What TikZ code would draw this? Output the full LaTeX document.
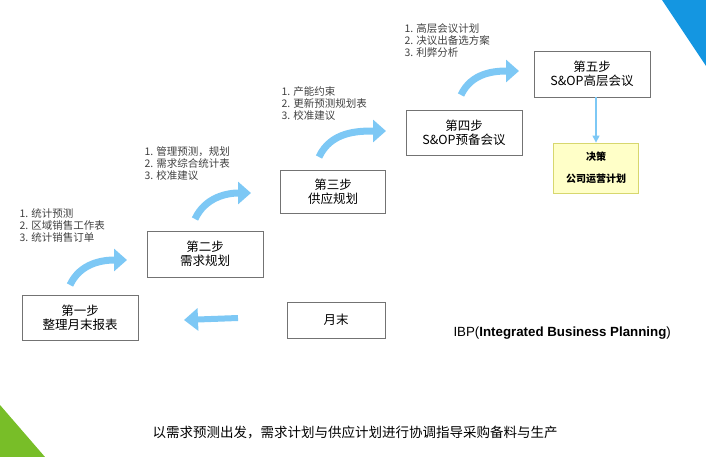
\documentclass[tikz,border=0pt]{standalone}
\usepackage{fontspec}
\setmainfont{Liberation Sans}
\newfontfamily\cjk{Noto Sans CJK SC}
\usetikzlibrary{arrows.meta}
\definecolor{skyblue}{RGB}{125,200,245}
\definecolor{cornerblue}{RGB}{20,150,225}
\definecolor{cornergreen}{RGB}{120,190,40}
\definecolor{notebox}{RGB}{255,255,200}
\definecolor{notedraw}{RGB}{215,215,110}
\tikzset{
  stepbox/.style={draw=black!55, line width=0.5pt, fill=white, align=center, font=\cjk\fontsize{12.5}{14}\selectfont},
  todolist/.style={anchor=north west, align=left, text=black!75, font=\cjk\fontsize{10.5}{12}\selectfont},
  bend arrow/.style={skyblue, line width=7pt, -{Triangle[length=13pt,width=22pt]}}
}
\begin{document}
\begin{tikzpicture}[x=1pt,y=-1pt]
    \useasboundingbox (0,0) rectangle (706,457);
    % Ecken
    \fill[cornerblue] (662,0) -- (706,0) -- (706,66) -- cycle;
    \fill[cornergreen] (0,405) -- (45,457) -- (0,457) -- cycle;
    % Schritte
    \node[stepbox, minimum width=116pt, minimum height=45pt] (step1) at (80,318) {第一步\\整理月末报表};
    \node[stepbox, minimum width=116pt, minimum height=46pt] (step2) at (205,254) {第二步\\需求规划};
    \node[stepbox, minimum width=105pt, minimum height=43pt] (step3) at (333,192) {第三步\\供应规划};
    \node[stepbox, minimum width=116pt, minimum height=45pt] (step4) at (464,133) {第四步\\S\&OP预备会议};
    \node[stepbox, minimum width=116pt, minimum height=46pt] (step5) at (592,74) {第五步\\S\&OP高层会议};
    \node[stepbox, minimum width=98pt, minimum height=36pt] (monthend) at (336,320) {月末};
    \node[draw=notedraw, fill=notebox, line width=0.8pt, minimum width=85pt, minimum height=50pt,
          align=center, font=\cjk\fontsize{10}{22}\selectfont\bfseries] (decision) at (596,168) {决策\\公司运营计划};
    % Listen
    \node[todolist] (list1) at (16,205) {1. 统计预测\\2. 区域销售工作表\\3. 统计销售订单};
    \node[todolist] (list2) at (141,143) {1. 管理预测，规划\\2. 需求综合统计表\\3. 校准建议};
    \node[todolist] (list3) at (278,83) {1. 产能约束\\2. 更新预测规划表\\3. 校准建议};
    \node[todolist] (list4) at (401,20) {1. 高层会议计划\\2. 决议出备选方案\\3. 利弊分析};
    % Pfeile
    \coordinate (a1) at (70,285); \coordinate (b1) at (127,260);
    \coordinate (a2) at (195,219); \coordinate (b2) at (251,193);
    \coordinate (a3) at (319,157); \coordinate (b3) at (386,131);
    \coordinate (a4) at (461,95); \coordinate (b4) at (519,71);
    \foreach \i in {1,...,4}
      \draw[bend arrow] (a\i) to[out=65, in=180] (b\i);
    \coordinate (back) at (238,318);
    \draw[skyblue, line width=6pt, -{Triangle[length=14pt,width=22pt]}] (back) -- (184,320);
    \draw[skyblue, line width=1.2pt, -{Triangle[length=7pt,width=7pt]}] (decision.north |- step5.south) -- (decision.north);
    % Texte
    \node[anchor=west, font=\fontsize{13.3}{15}\selectfont] (ibp) at (450,333) {IBP(\textbf{Integrated Business Planning})};
    \node[font=\cjk\fontsize{13.5}{15}\selectfont] (caption) at (355,432) {以需求预测出发，需求计划与供应计划进行协调指导采购备料与生产};
\end{tikzpicture}
\end{document}
